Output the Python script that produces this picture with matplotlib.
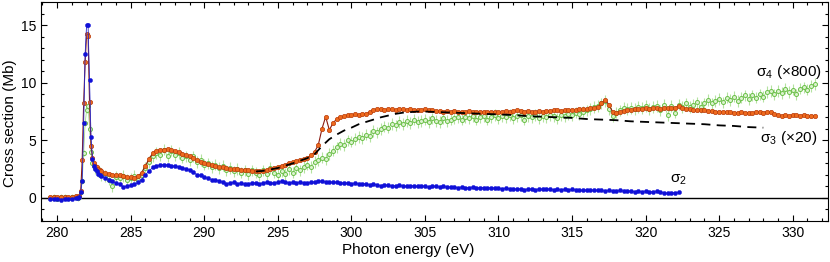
import numpy as np
import matplotlib
matplotlib.use("Agg")
import matplotlib.pyplot as plt
from matplotlib.ticker import MultipleLocator

plt.rcParams['font.family'] = ['Liberation Sans', 'DejaVu Sans']
plt.rcParams['mathtext.fontset'] = 'custom'
plt.rcParams['mathtext.rm'] = 'Liberation Sans'
plt.rcParams['mathtext.it'] = 'Liberation Sans'

# ---- photon energy grid (eV): baseline, peak region, main region ----
x_base = np.arange(8) * 0.25 + 279.5
x_peak = np.arange(16) * 0.1 + 281.4
x_main = np.arange(195) * 0.25 + 283.0

# ---- sigma_2 (Mb) ----
s2_base = [-0.1, -0.1, -0.05, -0.15, -0.1, -0.05, -0.1, 0.0]
s2_peak = [0.0, 0.1, 0.5, 1.5, 6.5, 12.5, 15.0, 15.0, 10.2, 5.3, 3.4, 2.8, 2.5, 2.3, 2.1, 2.0]
s2_main = [
    1.9, 1.75, 1.6, 1.45, 1.3, 1.2, 0.95, 1.05,
    1.1, 1.2, 1.35, 1.6, 2.0, 2.35, 2.65, 2.8,
    2.85, 2.9, 2.85, 2.8, 2.75, 2.7, 2.6, 2.55,
    2.4, 2.25, 2.0, 1.95, 1.8, 1.7, 1.6, 1.55,
    1.5, 1.35, 1.25, 1.3, 1.35, 1.25, 1.3, 1.2,
    1.25, 1.3, 1.3, 1.25, 1.3, 1.35, 1.3, 1.3,
    1.35, 1.45, 1.4, 1.3, 1.35, 1.3, 1.35, 1.3,
    1.3, 1.35, 1.4, 1.45, 1.45, 1.4, 1.4, 1.35,
    1.35, 1.3, 1.3, 1.3, 1.25, 1.3, 1.2, 1.25,
    1.2, 1.15, 1.2, 1.15, 1.05, 1.1, 1.1, 1.05,
    1.05, 1.1, 1.05, 1.0, 1.05, 1.05, 1.0, 1.05,
    1.0, 0.95, 1.0, 1.0, 0.95, 1.0, 0.95, 0.95,
    0.95, 0.9, 0.95, 0.9, 0.9, 0.95, 0.85, 0.9,
    0.9, 0.85, 0.9, 0.85, 0.85, 0.8, 0.85, 0.8,
    0.8, 0.75, 0.8, 0.7, 0.8, 0.75, 0.7, 0.8,
    0.75, 0.8, 0.75, 0.7, 0.75, 0.7, 0.75, 0.7,
    0.75, 0.7, 0.7, 0.65, 0.7, 0.65, 0.7, 0.65,
    0.65, 0.6, 0.65, 0.6, 0.6, 0.65, 0.6, 0.6,
    0.6, 0.55, 0.6, 0.55, 0.6, 0.5, 0.55, 0.6,
    0.5, 0.45, 0.4, 0.45, 0.45, 0.5,
]

# ---- sigma_3 (x20) ----
s3_base = [0.1, 0.05, 0.1, 0.1, 0.05, 0.1, 0.1, 0.15]
s3_peak = [0.1, 0.2, 0.6, 3.3, 8.2, 11.8, 14.2, 14.1, 8.3, 4.5, 3.5, 3.0, 2.8, 2.7, 2.5, 2.4]
s3_main = [
    2.3, 2.2, 2.1, 2.0, 2.0, 1.95, 1.9, 1.85,
    1.8, 1.75, 1.9, 2.2, 2.8, 3.4, 3.9, 4.1,
    4.2, 4.2, 4.25, 4.15, 4.1, 4.0, 3.85, 3.75,
    3.6, 3.45, 3.3, 3.15, 3.0, 2.95, 2.85, 2.75,
    2.7, 2.65, 2.6, 2.55, 2.55, 2.5, 2.45, 2.45,
    2.4, 2.35, 2.3, 2.3, 2.35, 2.4, 2.5, 2.6,
    2.7, 2.8, 2.9, 3.0, 3.1, 3.2, 3.3, 3.4,
    3.5, 3.7, 4.0, 4.6, 6.0, 7.05, 5.9, 6.5,
    6.85, 7.0, 7.1, 7.2, 7.2, 7.25, 7.2, 7.25,
    7.3, 7.45, 7.65, 7.7, 7.7, 7.65, 7.7, 7.7,
    7.65, 7.7, 7.7, 7.65, 7.7, 7.65, 7.6, 7.65,
    7.7, 7.6, 7.6, 7.55, 7.55, 7.5, 7.55, 7.5,
    7.55, 7.5, 7.5, 7.5, 7.55, 7.5, 7.45, 7.5,
    7.5, 7.45, 7.5, 7.45, 7.5, 7.5, 7.55, 7.5,
    7.55, 7.6, 7.55, 7.5, 7.55, 7.5, 7.5, 7.55,
    7.5, 7.55, 7.55, 7.6, 7.6, 7.55, 7.6, 7.65,
    7.6, 7.65, 7.7, 7.7, 7.75, 7.8, 7.8, 7.9,
    8.2, 8.5, 8.1, 7.5, 7.4, 7.5, 7.55, 7.6,
    7.65, 7.7, 7.75, 7.75, 7.8, 7.75, 7.8, 7.8,
    7.75, 7.8, 7.8, 7.85, 7.85, 7.95, 7.8, 7.75,
    7.7, 7.65, 7.6, 7.6, 7.6, 7.55, 7.55, 7.5,
    7.5, 7.5, 7.45, 7.45, 7.4, 7.4, 7.45, 7.4,
    7.4, 7.4, 7.45, 7.45, 7.4, 7.5, 7.45, 7.3,
    7.2, 7.15, 7.2, 7.15, 7.2, 7.2, 7.15, 7.2,
    7.15, 7.1, 7.15,
]

# ---- sigma_4 (x800) ----
s4_base = [0.0, 0.1, -0.05, 0.05, 0.1, 0.0, 0.05, 0.1]
s4_peak = [0.0, 0.1, 0.5, 1.5, 3.9, 6.5, 7.6, 8.0, 6.0, 4.0, 3.0, 2.8, 2.6, 2.4, 2.3, 2.2]
s4_main = [
    2.0, 1.9, 1.6, 1.0, 1.8, 1.7, 1.9, 1.6,
    1.7, 1.9, 1.6, 2.0, 2.6, 3.1, 3.6, 3.9,
    3.7, 4.2, 3.6, 4.1, 3.7, 3.9, 3.5, 3.6,
    3.3, 3.6, 3.1, 3.3, 2.9, 3.0, 2.7, 2.9,
    2.6, 2.8, 2.4, 2.6, 2.3, 2.5, 2.2, 2.4,
    2.1, 2.4, 2.2, 2.0, 2.4, 2.1, 2.6, 2.2,
    2.0, 2.3, 2.1, 2.5, 2.2, 2.6, 2.4, 2.7,
    2.9, 2.7, 3.1, 3.3, 3.5, 3.4, 3.8, 4.1,
    4.4, 4.7, 4.6, 5.0, 4.9, 5.1, 5.3, 5.2,
    5.5, 5.4, 5.8, 5.7, 6.0, 6.2, 6.1, 6.4,
    6.3, 6.6, 6.4, 6.7, 6.5, 6.8, 6.6, 6.7,
    6.8, 6.6, 6.9, 6.7, 6.6, 6.9, 6.7, 6.8,
    6.9, 7.0, 6.8, 7.0, 6.9, 7.1, 6.8, 7.0,
    7.1, 6.8, 7.0, 7.2, 6.9, 7.1, 7.0, 7.2,
    6.9, 7.1, 7.2, 6.8, 7.1, 7.0, 7.2, 6.9,
    7.1, 7.0, 7.2, 7.1, 6.9, 7.2, 7.1, 7.3,
    7.2, 7.4, 7.3, 7.5, 7.6, 7.7, 7.9, 8.0,
    8.2, 8.4, 7.7, 7.1, 7.4, 7.6, 7.8, 7.7,
    7.8, 7.7, 7.9, 7.8, 8.0, 7.7, 7.9, 8.0,
    7.6, 8.1, 7.2, 8.0, 7.4, 8.1, 7.9, 8.2,
    7.9, 8.1, 8.3, 7.9, 8.2, 8.5, 8.2, 8.4,
    8.6, 8.3, 8.7, 8.5, 8.8, 8.4, 8.7, 8.9,
    8.6, 8.9, 8.7, 9.0, 8.8, 9.2, 9.3, 9.0,
    9.3, 9.1, 9.5, 9.2, 9.4, 9.0, 9.5, 9.6,
    9.4, 9.7, 9.9,
]

# ---- dashed curve ----
dash_x = [293.5, 294, 295, 296, 297, 297.5, 298, 298.5, 299, 299.5, 300, 300.5,
          301, 301.5, 302, 302.5, 303, 303.5, 304, 304.5, 305, 306, 307, 308,
          309, 310, 311, 312, 313, 314, 315, 316, 317, 318, 319, 320, 321, 322,
          323, 324, 325, 326, 327, 328]
dash_y = [2.3, 2.35, 2.6, 3.0, 3.45, 3.8, 4.5, 5.1, 5.5, 5.85, 6.1, 6.4,
          6.6, 6.8, 7.0, 7.15, 7.3, 7.4, 7.45, 7.5, 7.5, 7.45, 7.4, 7.35,
          7.3, 7.25, 7.2, 7.1, 7.05, 7.0, 6.95, 6.85, 6.8, 6.75, 6.65, 6.6,
          6.55, 6.5, 6.45, 6.4, 6.3, 6.25, 6.15, 6.1]

labels = ['σ$_4$ (×800)', 'σ$_3$ (×20)', 'σ$_2$']

x_all = np.concatenate([x_base, x_peak, x_main])
s2 = np.array(s2_base + s2_peak + s2_main)
x2 = x_all[:len(s2)]
s3 = np.array(s3_base + s3_peak + s3_main)
s4 = np.array(s4_base + s4_peak + s4_main)
err4 = np.where(x_all > 282.5, 0.5, 0.25)

fig = plt.figure(figsize=(8.3, 2.62), dpi=100)
ax = fig.add_axes([0.0494, 0.1565, 0.9482, 0.8355])

ax.axhline(0, color='black', lw=1.0, zorder=1)

# sigma_4
ax.errorbar(x_all, s4, yerr=err4, fmt='none', ecolor='#b4e2a0', elinewidth=0.8, zorder=2)
ax.plot(x_all, s4, '-', color='#a6da90', lw=0.6, zorder=2)
ax.plot(x_all, s4, 'o', ms=2.9, mfc='#dcf3cf', mec='#6cc04a', mew=0.7, zorder=3)

# sigma_3
ax.plot(x_all, s3, '-', color='#8b1a10', lw=0.8, zorder=4)
ax.plot(x_all, s3, 'o', ms=3.1, mfc='#ee6a1e', mec='#b83a08', mew=0.5, zorder=5)

# dashed curve
ax.plot(dash_x, dash_y, '--', color='black', lw=1.3, dashes=(5, 3.5), zorder=6)

# sigma_2
ax.plot(x2, s2, '-', color='#2828c8', lw=0.6, zorder=6)
ax.plot(x2, s2, 'o', ms=3.0, mfc='#1010d8', mec='#1010d8', mew=0.3, zorder=7)

ax.text(331.95, 10.95, labels[0], ha='right', va='center', fontsize=11)
ax.text(331.7, 5.2, labels[1], ha='right', va='center', fontsize=11)
ax.text(322.2, 1.6, labels[2], ha='center', va='center', fontsize=11)

ax.set_xlim(278.9, 332.4)
ax.set_ylim(-2, 17)
ax.xaxis.set_major_locator(MultipleLocator(5))
ax.xaxis.set_minor_locator(MultipleLocator(1))
ax.yaxis.set_major_locator(MultipleLocator(5))
ax.yaxis.set_minor_locator(MultipleLocator(1))
ax.tick_params(which='both', direction='in', top=True, right=True, labelsize=10, width=0.8)
ax.tick_params(which='major', length=4.5)
ax.tick_params(which='minor', length=2.5)
for s in ax.spines.values():
    s.set_linewidth(0.8)

ax.set_xlabel('Photon energy (eV)', fontsize=11)
ax.set_ylabel('Cross section (Mb)', fontsize=11)
ax.xaxis.set_label_coords(0.466, -0.1)
ax.yaxis.set_label_coords(-0.031, 0.445)

fig.savefig('out.png', dpi=100)
